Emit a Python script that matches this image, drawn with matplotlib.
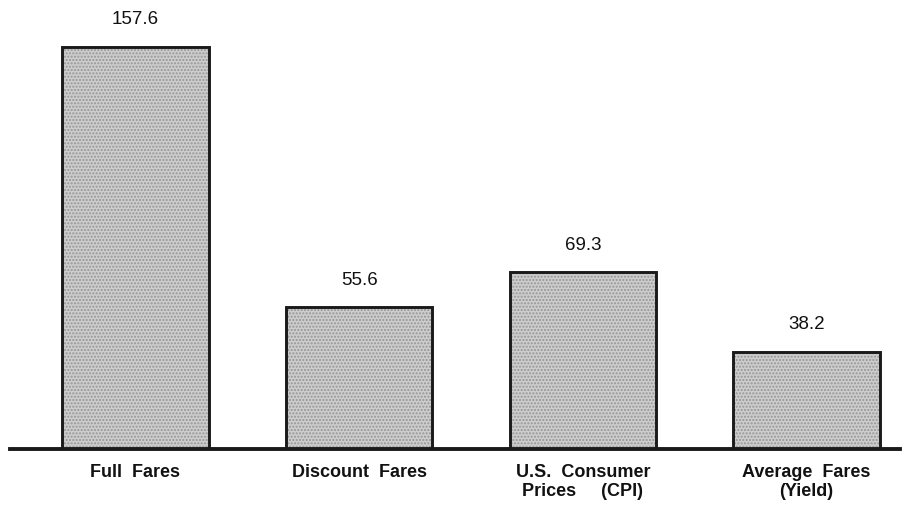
import matplotlib
matplotlib.use("Agg")
import matplotlib.pyplot as plt
import numpy

categories = ["Full  Fares", "Discount  Fares", "U.S.  Consumer\nPrices     (CPI)", "Average  Fares\n(Yield)"]
values = [157.6, 55.6, 69.3, 38.2]

plt.rcParams['font.family'] = ['Liberation Sans', 'DejaVu Sans']

fig = plt.figure(figsize=(9.06, 5.08), dpi=100)
ax = fig.add_axes([10/906., 59/508., 890/906., 449/508.])

x = numpy.arange(len(values))
w = 0.653
# stippled grey fill, then the black outline on top
ax.bar(x, values, w, color='#cdcdcd', edgecolor='#959595', hatch='.....', linewidth=0, zorder=2)
ax.bar(x, values, w, fill=False, edgecolor='#1a1a1a', linewidth=2.1, zorder=3)

ax.axhline(0, color='#1a1a1a', linewidth=2.8, zorder=4, clip_on=False)

for i, v in enumerate(values):
	ax.annotate("%.1f" % v, (x[i], v), xytext=(0, 19.5), textcoords='offset points',
		ha='center', va='center', fontsize=13.5, color='#111111')
	ax.annotate(categories[i], (x[i], 0), xytext=(0, -11), textcoords='offset points',
		ha='center', va='top', fontsize=13, fontweight='bold', color='#111111',
		linespacing=1.1)

ax.set_xlim(-0.561, 3.418)
ax.set_ylim(0, 157.6*449/402.)
ax.axis('off')

fig.savefig("out.png", dpi=100)
